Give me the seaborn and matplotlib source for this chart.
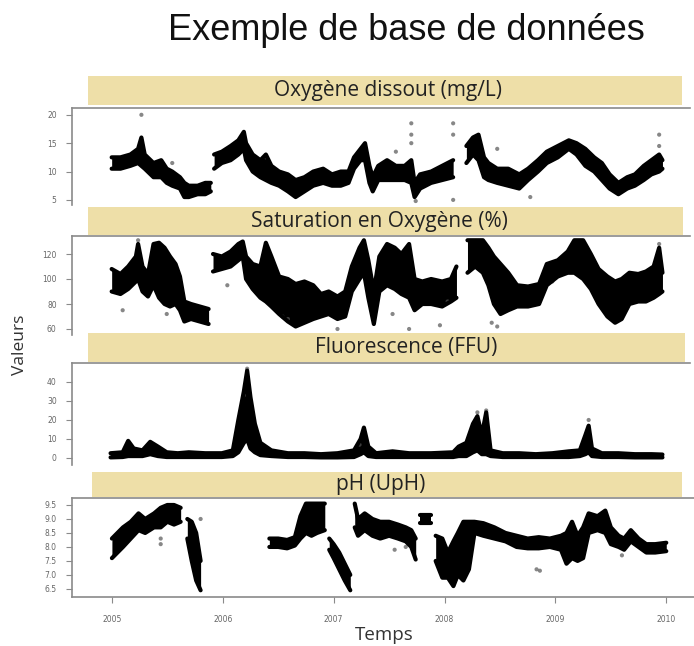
import numpy as np
import pandas as pd
import matplotlib
matplotlib.use("Agg")
import matplotlib.pyplot as plt
import seaborn as sns

nan = np.nan

title = "Exemple de base de données"
panel_titles = ["Oxygène dissout (mg/L)", "Saturation en Oxygène (%)", "Fluorescence (FFU)", "pH (UpH)"]
x_ticks = [2005, 2006, 2007, 2008, 2009, 2010]
x_ticklabels = ["2005", "2006", "2007", "2008", "2009", "2010"]

# ---- Oxygène dissous (band: low / high envelope of dense points) ----
ox_t = [2005.0, 2005.08, 2005.17, 2005.24, 2005.27, 2005.3, 2005.38, 2005.45, 2005.5, 2005.55, 2005.62,
        2005.66, 2005.7, 2005.78, 2005.85, 2005.9, 2005.92, 2005.93, 2006.0, 2006.08, 2006.15, 2006.2,
        2006.22, 2006.28, 2006.35, 2006.4, 2006.45, 2006.52, 2006.6, 2006.67, 2006.75, 2006.83, 2006.92,
        2007.0, 2007.08, 2007.15, 2007.2, 2007.26, 2007.3, 2007.34, 2007.37, 2007.42, 2007.5, 2007.58,
        2007.66, 2007.72, 2007.75, 2007.8, 2007.9, 2008.0, 2008.1, 2008.15, 2008.22, 2008.28, 2008.33,
        2008.38, 2008.42, 2008.5, 2008.6, 2008.7, 2008.78, 2008.87, 2008.95, 2009.05, 2009.15, 2009.22,
        2009.3, 2009.38, 2009.45, 2009.52, 2009.6, 2009.68, 2009.75, 2009.83, 2009.9, 2009.97, 2010.0]
ox_lo = [10.5, 10.5, 11, 11.5, 11, 10.5, 9, 9, 8, 7.5, 7, 5.5, 5.5, 6, 6, 6.5, nan, 10.5, 11.5, 12, 13, 14,
         12, 10, 9, 8.5, 8, 7.5, 6.5, 5.5, 6.5, 7.5, 8, 7.5, 7.5, 8, 10.5, 12, 12, 8, 6.5, 8.5, 8.5, 8.5,
         8.5, 8, 5.5, 7, 8, 8.5, 9, nan, 11.5, 13, 12, 9, 8.5, 8, 7.5, 7, 8.5, 10, 11.5, 12.5, 14, 13, 11,
         10, 8.5, 7, 6, 7, 7.5, 8.5, 9.5, 10, 10.5]
ox_hi = [12.5, 12.5, 13, 14, 16, 13, 11.5, 12, 10.5, 10, 9, 8, 7.5, 7.5, 8, 8, nan, 13, 13.5, 14.5, 15.5, 17,
         15, 13, 12, 13, 11, 10, 9.5, 8.5, 9, 10, 10.5, 9.5, 10, 10, 12.5, 14, 15, 11, 9, 11, 12, 11, 11,
         12, 8, 9.5, 10, 11, 12, nan, 14.5, 16, 16.5, 12.5, 11.5, 10.5, 10.5, 9.5, 10.5, 12, 13.5, 14.5,
         15.5, 15, 14, 12.5, 11.5, 9.5, 8, 9, 9.5, 11, 12, 13, 12]
ox_out_t = [2005.27, 2005.55, 2007.58, 2007.72, 2007.72, 2007.72, 2008.1, 2008.1, 2007.76, 2008.1, 2008.5,
            2009.97, 2009.97, 2006.4, 2008.8]
ox_out_v = [20, 11.5, 13.5, 18.5, 16.5, 15, 18.5, 16.5, 4.8, 5, 14, 16.5, 14.5, 12.5, 5.5]

# ---- Saturation en oxygène ----
sat_t = [2005.0, 2005.08, 2005.15, 2005.22, 2005.24, 2005.28, 2005.33, 2005.38, 2005.43, 2005.48, 2005.53,
         2005.58, 2005.62, 2005.66, 2005.72, 2005.8, 2005.88, 2005.9, 2005.92, 2006.0, 2006.08, 2006.15,
         2006.19, 2006.22, 2006.28, 2006.35, 2006.4, 2006.45, 2006.52, 2006.6, 2006.67, 2006.75, 2006.83,
         2006.9, 2006.97, 2007.05, 2007.12, 2007.18, 2007.25, 2007.29, 2007.33, 2007.38, 2007.43, 2007.5,
         2007.57, 2007.63, 2007.7, 2007.75, 2007.82, 2007.9, 2008.0, 2008.08, 2008.13, 2008.17, 2008.23,
         2008.3, 2008.37, 2008.42, 2008.47, 2008.53, 2008.6, 2008.68, 2008.78, 2008.88, 2008.95, 2009.05,
         2009.14, 2009.2, 2009.28, 2009.35, 2009.42, 2009.5, 2009.57, 2009.63, 2009.7, 2009.78, 2009.85,
         2009.92, 2009.97, 2010.0]
sat_lo = [90, 88, 92, 98, 100, 90, 86, 95, 85, 80, 78, 80, 75, 66, 68, 66, 64, nan, 106, 108, 110, 115, 118,
          100, 92, 85, 82, 78, 72, 66, 62, 65, 68, 70, 72, 68, 70, 90, 100, 105, 85, 64, 90, 95, 92, 88, 85,
          75, 80, 80, 78, 82, 85, nan, 105, 110, 105, 95, 80, 72, 75, 78, 78, 80, 95, 102, 105, 105, 100, 92,
          80, 70, 65, 68, 80, 82, 82, 85, 88, 90]
sat_hi = [108, 104, 110, 118, 128, 110, 104, 128, 129, 125, 118, 112, 102, 82, 80, 78, 76, nan, 120, 118, 122,
          128, 130, 118, 112, 110, 129, 118, 102, 100, 96, 98, 95, 88, 90, 86, 90, 110, 125, 131, 115, 90,
          118, 128, 125, 120, 128, 100, 98, 100, 98, 100, 110, nan, 131, 131, 131, 125, 118, 112, 105, 95,
          94, 96, 112, 115, 122, 131, 131, 120, 108, 102, 98, 100, 105, 104, 106, 110, 125, 105]
sat_out_t = [2005.1, 2005.24, 2005.5, 2006.05, 2006.55, 2006.6, 2007.05, 2007.55, 2007.7, 2007.98, 2008.05,
             2008.45, 2008.5, 2009.0, 2009.97]
sat_out_v = [75, 131, 72, 95, 70, 68, 60, 72, 60, 63, 82, 65, 62, 98, 128]

# ---- Fluorescence ----
flu_t = [2004.99, 2005.1, 2005.15, 2005.2, 2005.28, 2005.35, 2005.42, 2005.5, 2005.6, 2005.7, 2005.85,
         2006.0, 2006.1, 2006.15, 2006.2, 2006.23, 2006.26, 2006.3, 2006.35, 2006.45, 2006.6, 2006.75,
         2006.9, 2007.05, 2007.2, 2007.26, 2007.29, 2007.33, 2007.4, 2007.55, 2007.7, 2007.9, 2008.1,
         2008.15, 2008.22, 2008.28, 2008.32, 2008.36, 2008.4, 2008.44, 2008.55, 2008.7, 2008.85, 2009.0,
         2009.15, 2009.25, 2009.3, 2009.33, 2009.36, 2009.45, 2009.6, 2009.75, 2009.9, 2010.0]
flu_lo = [0.3, 0.5, 1, 1, 1, 2, 1, 0.5, 0.5, 0.5, 0.5, 0.5, 1, 3, 8, 10, 5, 3, 1.5, 1, 0.5, 0.5, 0.3, 0.3,
          0.5, 2, 3, 1, 0.5, 0.5, 0.5, 0.5, 0.5, 1, 1, 3, 4, 2, 2, 1, 0.5, 0.5, 0.5, 0.5, 0.5, 1, 2, 3, 1,
          0.5, 0.5, 0.3, 0.3, 0.3]
flu_hi = [2.5, 3, 9, 5, 4, 8.5, 6, 3, 2.5, 3, 2.5, 2.5, 4, 20, 35, 46, 32, 18, 8, 4, 2.5, 2.5, 2, 2.5, 4, 10,
          16, 6, 2.5, 3.5, 2.5, 2.5, 3, 6, 8, 18, 22, 12, 24, 4, 2.5, 2.5, 2, 2.5, 3.5, 4, 12, 17, 5, 2.5,
          2.5, 2, 2, 1.8]
flu_out_t = [2006.23, 2006.2, 2007.25, 2008.32, 2008.4, 2009.33]
flu_out_v = [47, 33, 7, 24, 25, 20]

# ---- pH ----
ph_t = [2005.0, 2005.05, 2005.1, 2005.17, 2005.24, 2005.3, 2005.38, 2005.44, 2005.5, 2005.56, 2005.62,
        2005.65, 2005.68, 2005.72, 2005.76, 2005.8, 2005.82, 2006.42, 2006.5, 2006.58, 2006.65, 2006.7,
        2006.75, 2006.8, 2006.85, 2006.92, 2006.95, 2006.96, 2007.0, 2007.05, 2007.1, 2007.15, 2007.17,
        2007.19, 2007.22, 2007.28, 2007.35, 2007.42, 2007.5, 2007.58, 2007.65, 2007.7, 2007.74, 2007.76,
        2007.78, 2007.88, 2007.9, 2007.92, 2007.98, 2008.03, 2008.08, 2008.12, 2008.17, 2008.22, 2008.27,
        2008.35, 2008.45, 2008.55, 2008.65, 2008.75, 2008.85, 2008.95, 2009.05, 2009.1, 2009.15, 2009.2,
        2009.25, 2009.3, 2009.38, 2009.45, 2009.5, 2009.57, 2009.62, 2009.68, 2009.75, 2009.82, 2009.9,
        2010.0]
ph_lo = [7.6, 7.8, 8.0, 8.3, 8.6, 8.5, 8.7, 8.7, 8.9, 8.8, 8.9, nan, 8.3, 7.5, 6.8, 6.45, nan, 8.0, 8.0,
         7.95, 8.05, 8.3, 8.5, 8.4, 8.5, 8.6, nan, 7.9, 7.6, 7.2, 6.8, 6.45, nan, 8.7, 8.4, 8.6, 8.4, 8.3,
         8.4, 8.3, 8.2, 8.0, 7.55, nan, 8.85, 8.85, nan, 7.5, 6.9, 6.9, 6.6, 7.0, 6.8, 7.2, 8.5, 8.4, 8.3,
         8.2, 8.0, 7.95, 7.95, 8.0, 7.9, 7.4, 7.6, 7.5, 7.6, 8.5, 8.6, 8.5, 8.1, 8.0, 7.9, 8.2, 8.0, 7.8,
         7.8, 7.85]
ph_hi = [8.3, 8.5, 8.7, 8.9, 9.2, 9.0, 9.2, 9.4, 9.5, 9.5, 9.4, nan, 9.0, 8.9, 8.5, 7.5, nan, 8.3, 8.3,
         8.25, 8.35, 9.1, 9.55, 9.55, 9.55, 9.55, nan, 8.3, 8.1, 7.8, 7.4, 7.0, nan, 9.55, 9.0, 9.2, 9.0,
         8.9, 8.9, 8.8, 8.7, 8.6, 8.3, nan, 9.15, 9.15, nan, 8.4, 8.3, 7.8, 8.2, 8.5, 8.9, 8.9, 8.9, 8.85,
         8.7, 8.5, 8.4, 8.3, 8.35, 8.3, 8.4, 8.5, 8.9, 8.4, 8.7, 9.2, 9.1, 9.3, 8.7, 8.4, 8.3, 8.6, 8.3,
         8.1, 8.1, 8.15]
ph_out_t = [2005.44, 2005.44, 2007.55, 2007.65, 2008.83, 2008.86, 2009.6, 2005.8]
ph_out_v = [8.1, 8.3, 7.9, 8.0, 7.2, 7.15, 7.7, 9.0]

series = [
    (ox_t, ox_lo, ox_hi, ox_out_t, ox_out_v),
    (sat_t, sat_lo, sat_hi, sat_out_t, sat_out_v),
    (flu_t, flu_lo, flu_hi, flu_out_t, flu_out_v),
    (ph_t, ph_lo, ph_hi, ph_out_t, ph_out_v),
]
y_ticks = [[5, 10, 15, 20], [60, 80, 100, 120], [0, 10, 20, 30, 40],
           [6.5, 7.0, 7.5, 8.0, 8.5, 9.0, 9.5]]
y_lims = [(4.1, 21.2), (55.2, 134.4), (-3.7, 50), (6.21, 9.75)]

sns.set_style("white")
plt.rcParams["font.family"] = ["Open Sans", "DejaVu Sans"]

W, H = 694, 646
fig = plt.figure(figsize=(W / 100, H / 100), dpi=100)


def fax(x0, y0, x1, y1):
    return fig.add_axes([x0 / W, 1 - y1 / H, (x1 - x0) / W, (y1 - y0) / H])


strip_boxes = [(88, 76, 682, 105), (88, 207, 683, 235), (88, 333, 685, 362), (92, 472, 682, 497)]
strip_text_x = [388, 379, 406, 381]
axes_boxes = [(72, 108, 690, 205), (72, 236, 690, 335), (72, 363, 690, 465), (72, 498, 694, 597)]
strip_color = "#EEDFA8"
grey = "#8a8a8a"

for i in range(4):
    t, lo, hi, ot, ov = series[i]
    df = pd.DataFrame({"t": t, "lo": lo, "hi": hi})
    df["seg"] = df["lo"].isna().cumsum()
    df = df.dropna().reset_index(drop=True)

    ax = fax(*axes_boxes[i])
    for _, g in df.groupby("seg"):
        ax.fill_between(g["t"], g["lo"], g["hi"], color="black", lw=0)
    sns.lineplot(data=df, x="t", y="lo", units="seg", estimator=None, color="black",
                 lw=3, ax=ax, legend=False)
    sns.lineplot(data=df, x="t", y="hi", units="seg", estimator=None, color="black",
                 lw=3, ax=ax, legend=False)
    sns.scatterplot(x=ot, y=ov, s=9, color="#555555", alpha=0.7, edgecolor="none", ax=ax)

    ax.set_xlim(2004.64, 2010.25)
    ax.set_ylim(*y_lims[i])
    ax.set_yticks(y_ticks[i])
    if i == 3:
        ax.set_yticklabels([f"{v:.1f}" for v in y_ticks[i]])
        ax.set_xticks(x_ticks)
        ax.set_xticklabels(x_ticklabels)
    else:
        ax.set_xticks([])
    ax.set_xlabel("")
    ax.set_ylabel("")
    ax.spines["right"].set_visible(False)
    ax.spines["bottom"].set_visible(i == 3)
    for s in ["left", "top", "bottom"]:
        ax.spines[s].set_color(grey)
        ax.spines[s].set_linewidth(1.2)
    ax.tick_params(axis="y", direction="out", length=4, width=0.8,
                   color=grey, labelsize=5.5, labelcolor="#666666", pad=7, left=True)
    ax.tick_params(axis="x", direction="out", length=4, width=0.8,
                   color=grey, labelsize=5.5, labelcolor="#666666", pad=9, bottom=(i == 3))
    for lab in ax.get_xticklabels() + ax.get_yticklabels():
        lab.set_family(["DejaVu Sans"])

    sx = fax(*strip_boxes[i])
    sx.set_facecolor(strip_color)
    sx.set_xticks([])
    sx.set_yticks([])
    for s in sx.spines.values():
        s.set_visible(False)
    sx.text((strip_text_x[i] - strip_boxes[i][0]) / (strip_boxes[i][2] - strip_boxes[i][0]), 0.5,
            panel_titles[i], transform=sx.transAxes, ha="center", va="center",
            fontsize=15, color="#222222")

fig.text(406 / W, 1 - 30 / H, title, ha="center", va="center", fontsize=26,
         family=["Liberation Sans", "DejaVu Sans"], color="#111111")
fig.text(20 / W, 1 - 345 / H, "Valeurs", rotation=90, ha="center", va="center",
         fontsize=12.5, color="#333333")
fig.text(384 / W, 1 - 635 / H, "Temps", ha="center", va="center", fontsize=13.5, color="#333333")

fig.savefig("out.png", dpi=100)
